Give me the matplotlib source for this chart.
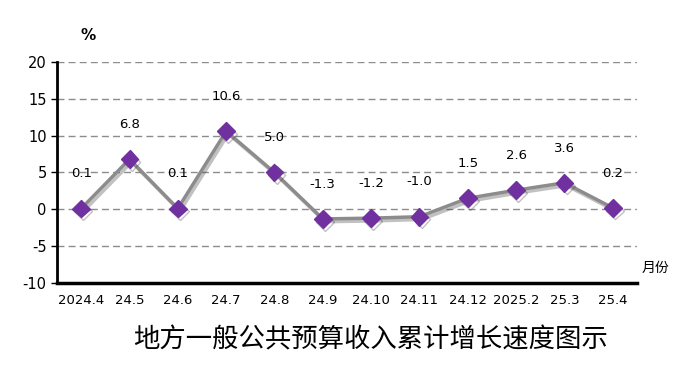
import matplotlib.pyplot as plt
import matplotlib.patheffects as pe

plt.rcParams['font.family'] = ['DejaVu Sans', 'Noto Sans CJK SC']
plt.rcParams['axes.unicode_minus'] = False

months = ['2024.4', '24.5', '24.6', '24.7', '24.8', '24.9', '24.10', '24.11',
          '24.12', '2025.2', '25.3', '25.4']
growth = [0.1, 6.8, 0.1, 10.6, 5.0, -1.3, -1.2, -1.0, 1.5, 2.6, 3.6, 0.2]
yticks = [-10, -5, 0, 5, 10, 15, 20]

fig = plt.figure(figsize=(6.92, 3.71), dpi=100)
ax = fig.add_axes([0.0824, 0.2372, 0.838, 0.5957])

x = list(range(len(months)))
shadow = [pe.SimpleLineShadow(offset=(1.5, -2), alpha=0.3, shadow_color='#333333'), pe.Normal()]
ax.plot(x, growth, color='#8c8c8c', lw=2.5, zorder=3, path_effects=shadow)
ax.plot(x, growth, ls='none', marker='D', ms=9, color='#7030a0', zorder=4,
        path_effects=shadow)

for xi, v in zip(x, growth):
    ax.annotate(f'{v:.1f}', (xi, v), xytext=(0, 25), textcoords='offset points',
                ha='center', va='center', fontsize=9.5)

ax.set_xlim(-0.5, 11.5)
ax.set_ylim(-10, 20)
ax.set_yticks(yticks)
ax.set_xticks(x)
ax.set_xticklabels(months, fontsize=9.5)
ax.tick_params(axis='y', labelsize=10.5, length=4, width=1, direction='out')
ax.tick_params(axis='x', length=0, pad=8)

for y in yticks[1:]:
    ax.axhline(y, color='#8c8c8c', lw=1, ls=(0, (5, 3)), zorder=1)

for s in ['top', 'right']:
    ax.spines[s].set_visible(False)
ax.spines['left'].set_linewidth(2)
ax.spines['bottom'].set_linewidth(2.5)

fig.text(0.127, 0.905, '%', fontsize=11, fontweight='bold', ha='center', va='center')
fig.text(0.947, 0.278, '月份', fontsize=10, ha='center', va='center',
         family=['Noto Sans CJK SC'])
fig.text(0.535, 0.083, '地方一般公共预算收入累计增长速度图示', fontsize=19,
         ha='center', va='center', family=['Noto Sans CJK SC'])

fig.savefig('out.png', dpi=100)
